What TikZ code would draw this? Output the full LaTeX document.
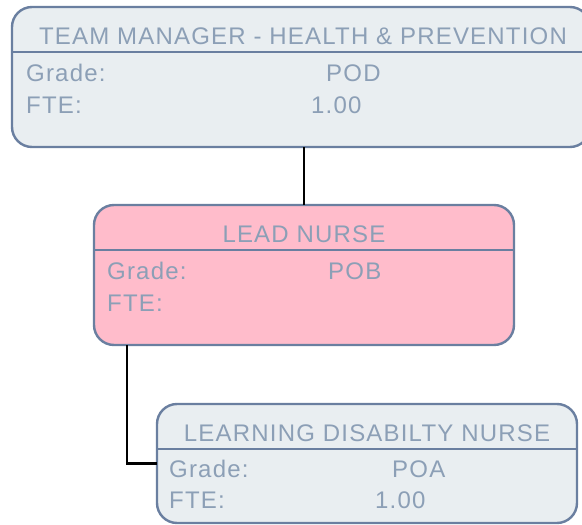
\documentclass[tikz,border=0pt]{standalone}
\usepackage{fontspec}
\setmainfont{Liberation Sans}[LetterSpace=5]
\usepackage{xcolor}
\usetikzlibrary{positioning}
\definecolor{boxfill}{HTML}{E9EEF1}
\definecolor{boxline}{HTML}{6A7FA0}
\definecolor{boxtext}{HTML}{8C9FB6}
\definecolor{leadfill}{HTML}{FFBCCB}
\tikzstyle{post} = [
rectangle,
rounded corners=20pt,
minimum width=420pt,
minimum height=140pt,
inner sep=0pt,
outer sep=0pt,
draw=boxline,
fill=boxfill,
line width=2.4pt
]
\tikzstyle{postlead} = [
post,
fill=leadfill
]
\tikzstyle{divider} = [
draw=boxline,
line width=2.4pt
]
\tikzstyle{posttitle} = [
text=boxtext,
font=\fontsize{24}{28}\selectfont,
inner sep=0pt,
anchor=base
]
\tikzstyle{fieldtext} = [
posttitle,
anchor=base west
]
\tikzstyle{link} = [
line width=2.5pt,
draw=black
]

\begin{document}
\begin{tikzpicture}[node distance=58pt]
			
			\clip (0,0) rectangle (582pt,-525pt);
			
			\node (n1) [post, minimum width=578pt, anchor=north west] at (12pt,-7pt) {};
			
			\node (n2) [postlead, below=of n1.south -| {(304pt,0)}, anchor=north] {};
			
			\node (n3) [post, minimum height=119pt, anchor=north west] at ([xshift=63pt,yshift=-59pt]n2.south west) {};
			
			\draw [link] (n2.north) -- (n2.north |- n1.south);
			\draw [link] ([xshift=33pt]n2.south west) |- (n3.west);
			
			\foreach \n in {n1,n2,n3}
			\draw [divider] ([yshift=-45pt]\n.north west) -- ([yshift=-45pt]\n.north east);
			
			\node (t1) [posttitle] at ([xshift=2pt,yshift=-37pt]n1.north) {TEAM MANAGER - HEALTH \& PREVENTION};
			\node (g1) [fieldtext] at ([xshift=14pt,yshift=-74pt]n1.north west) {Grade:};
			\node (gv1) [fieldtext] at ([xshift=25pt,yshift=-74pt]n1.north) {POD};
			\node (f1) [fieldtext] at ([xshift=14pt,yshift=-106pt]n1.north west) {FTE:};
			\node (fv1) [fieldtext] at ([xshift=10pt,yshift=-106pt]n1.north) {1.00};
			
			\node (t2) [posttitle] at ([yshift=-37pt]n2.north) {LEAD NURSE};
			\node (g2) [fieldtext] at ([xshift=13pt,yshift=-74pt]n2.north west) {Grade:};
			\node (gv2) [fieldtext] at ([xshift=24pt,yshift=-74pt]n2.north) {POB};
			\node (f2) [fieldtext] at ([xshift=13pt,yshift=-106pt]n2.north west) {FTE:};
			
			\node (t3) [posttitle] at ([yshift=-37pt]n3.north) {LEARNING DISABILTY NURSE};
			\node (g3) [fieldtext] at ([xshift=12pt,yshift=-73pt]n3.north west) {Grade:};
			\node (gv3) [fieldtext] at ([xshift=25pt,yshift=-73pt]n3.north) {POA};
			\node (f3) [fieldtext] at ([xshift=12pt,yshift=-104pt]n3.north west) {FTE:};
			\node (fv3) [fieldtext] at ([xshift=8pt,yshift=-104pt]n3.north) {1.00};
			
		\end{tikzpicture}
\end{document}
